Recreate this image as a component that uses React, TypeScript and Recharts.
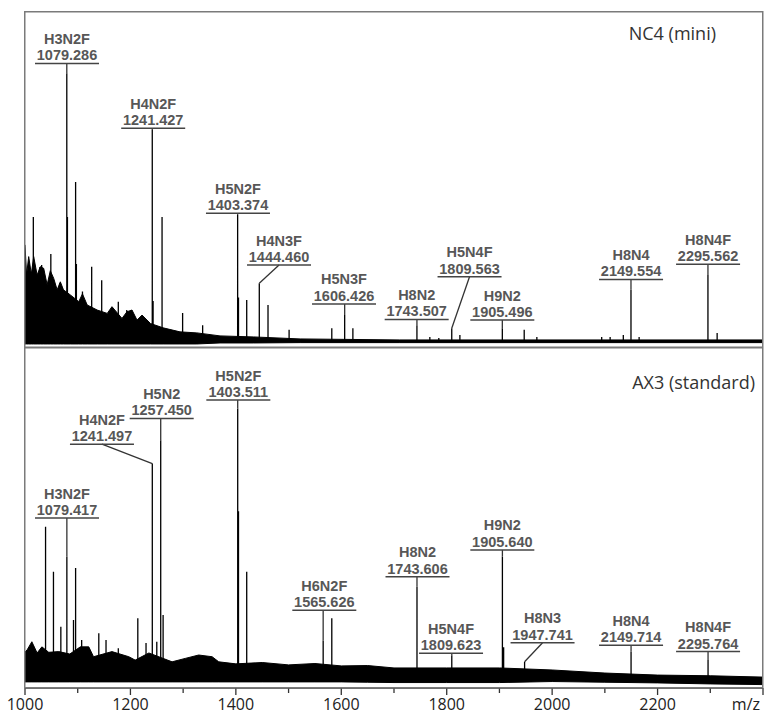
import { ComposedChart, Line, Area, Scatter, XAxis, YAxis, ReferenceLine } from "recharts";

// m/z axis
const mzDomain = [1000, 2400];
const mzTicks = [1000, 1100, 1200, 1300, 1400, 1500, 1600, 1700, 1800, 1900, 2000, 2100, 2200, 2300, 2400];

// NC4 (mini) — peaks as [m/z, relative intensity]
const ncPeaks = [
  [1079.286, 81.8], [1241.427, 64.9], [1403.374, 39.6], [1444.46, 19.3], [1606.426, 9.8],
  [1743.507, 6.8], [1809.563, 5.9], [1905.496, 5.9], [2149.554, 17.3], [2295.562, 21.7],
  [1015.8, 39], [1028, 24], [1031.6, 24.7], [1049, 28], [1066, 19.3], [1080.5, 39],
  [1096, 49.4], [1097.5, 25], [1109, 16.8], [1126.5, 24.2], [1145.5, 20.2], [1177, 13.8],
  [1193, 11.3], [1202, 11.3], [1221, 8.9], [1243, 14], [1260, 39], [1299, 10.4], [1337, 6.8],
  [1405, 15], [1420.6, 14.3], [1461, 12.8], [1501, 5.4], [1582, 5.9], [1622, 5.9],
  [1768, 3.3], [1785, 3.0], [1825, 3.9], [1947, 5.4], [1971, 3.3], [2094, 3.3], [2110, 3.3],
  [2135, 3.9], [2165, 3.3], [2313, 4.5],
];
// noise band [m/z, low, high]
const ncNoise = [
  [1000, 1.2, 30.7], [1003, 1.2, 21.7], [1007, 1.2, 27.2], [1012, 1.2, 22], [1016.5, 1.2, 27.2],
  [1023, 1.2, 21.7], [1029, 1.2, 24.2], [1035.5, 1.2, 23.7], [1042, 1.2, 18.8], [1048, 1.2, 23],
  [1054.5, 1.2, 20.7], [1061, 1.2, 17.3], [1067, 1.2, 19.7], [1073, 1.2, 17.3], [1086, 1.2, 15.8],
  [1102, 1.2, 13.8], [1109, 1.2, 16.1], [1118, 1.2, 12.8], [1137, 1.2, 11.3], [1156, 1.2, 10.3],
  [1165, 1.2, 12.3], [1184, 1.2, 8.8], [1193.5, 1.2, 10.8], [1203, 1.2, 11.3], [1212.5, 1.2, 8.3],
  [1222, 1.2, 9.8], [1238, 1.2, 7.3], [1262, 1.2, 6.0], [1294, 1.2, 4.8], [1326, 1.2, 4.5],
  [1370, 1.5, 3.6], [1433, 1.5, 3.3], [1522, 1.6, 2.7], [1711, 1.6, 2.4], [2400, 1.6, 2.4],
];
// labels: [name, mass, label m/z, label level, peak m/z, peak top]
const ncLabels = [
  ["H3N2F", "1079.286", 1079.7, 84.7, 1079.286, 81.8],
  ["H4N2F", "1241.427", 1243.2, 65.4, 1241.427, 64.9],
  ["H5N2F", "1403.374", 1404, 40.1, 1403.374, 39.6],
  ["H4N3F", "1444.460", 1481.9, 24.7, 1444.46, 19.3],
  ["H5N3F", "1606.426", 1605.2, 13.1, 1606.426, 9.8],
  ["H8N2", "1743.507", 1743, 8.5, 1743.507, 6.8],
  ["H5N4F", "1809.563", 1843.3, 21.2, 1809.563, 5.9],
  ["H9N2", "1905.496", 1905.5, 8.3, 1905.496, 5.9],
  ["H8N4", "2149.554", 2149.7, 20.4, 2149.554, 17.3],
  ["H8N4F", "2295.562", 2295.8, 24.9, 2295.562, 21.7],
];

// AX3 (standard)
const axPeaks = [
  [1079.417, 38.6], [1241.497, 66], [1257.45, 72.9], [1403.511, 82.2], [1565.626, 14],
  [1743.606, 29.8], [1809.623, 9.6], [1905.64, 38.6], [1947.741, 7.7], [2149.714, 10.7],
  [2295.764, 8.2],
  [1039, 47.4], [1054, 34.2], [1068, 18], [1092, 20], [1096, 35.3], [1107.5, 14.1],
  [1140, 16.1], [1153.7, 14.1], [1177, 11.7], [1214, 20.5], [1229.6, 13.2], [1250, 13.6],
  [1262, 21.5], [1319, 9.2], [1405, 52], [1420.6, 34.2], [1582, 20.5], [1908, 12],
];
const axNoise = [
  [1000, 1.8, 10.6], [1004, 1.8, 11.2], [1013, 1.8, 13.6], [1023, 1.8, 10.3], [1032, 1.8, 12.1],
  [1045, 1.8, 10.5], [1064, 1.8, 10.7], [1085, 1.8, 10.0], [1105, 1.8, 12.1], [1121, 1.8, 12.1],
  [1130, 1.8, 9.2], [1165, 1.8, 10.7], [1197, 1.8, 9.2], [1209, 1.8, 8.2], [1235, 1.8, 10.3],
  [1279, 1.8, 7.7], [1304, 1.8, 8.7], [1329.5, 1.8, 9.7], [1355, 1.8, 9.2], [1367.5, 1.8, 7.7],
  [1400, 1.8, 7.1], [1450, 1.8, 7.5], [1500, 1.8, 6.8], [1550, 1.8, 7.2], [1600, 1.8, 6.5],
  [1650, 1.7, 6.6], [1700, 1.6, 5.9], [1800, 1.6, 5.9], [1900, 1.6, 5.9], [2000, 1.9, 5.3],
  [2100, 1.7, 4.4], [2200, 1.5, 3.8], [2300, 1.2, 3.6], [2400, 1.0, 3.2],
];
const axLabels = [
  ["H3N2F", "1079.417", 1079.7, 50, 1079.417, 38.6],
  ["H4N2F", "1241.497", 1146, 71.7, 1241.497, 66],
  ["H5N2", "1257.450", 1259.3, 79.3, 1257.45, 72.9],
  ["H5N2F", "1403.511", 1404.7, 84.7, 1403.511, 82.2],
  ["H6N2F", "1565.626", 1567.8, 22.9, 1565.626, 14],
  ["H8N2", "1743.606", 1744.6, 32.7, 1743.606, 29.8],
  ["H5N4F", "1809.623", 1808.2, 10.2, 1809.623, 9.6],
  ["H9N2", "1905.640", 1905.5, 40.6, 1905.64, 38.6],
  ["H8N3", "1947.741", 1981.8, 13.3, 1947.741, 7.7],
  ["H8N4", "2149.714", 2149.7, 12.6, 2149.714, 10.7],
  ["H8N4F", "2295.764", 2295.8, 10.7, 2295.764, 8.2],
];

const FONT = "'Open Sans', 'DejaVu Sans', sans-serif";
const LABEL_FONT = "'Liberation Sans', Arial, sans-serif";

const toSticks = (peaks: number[][], base: number) => {
  const sorted = [...peaks].sort((a, b) => a[0] - b[0]);
  const out = [{ mz: mzDomain[0], v: base }];
  sorted.forEach(([m, h]) => {
    out.push({ mz: m, v: base }, { mz: m, v: h }, { mz: m, v: base });
  });
  out.push({ mz: mzDomain[1], v: base });
  return out;
};

const toBand = (noise: number[][]) => noise.map(([mz, lo, hi]) => ({ mz, band: [lo, hi] }));

const toLabels = (labels: any[]) =>
  labels.map(([name, mass, lx, ly]) => ({ mz: lx, v: ly, name, mass }));

const PeakLabel = (props: any) => {
  const { cx, cy, payload } = props;
  const textProps = {
    textAnchor: "middle" as const,
    fontSize: 14.5,
    fontWeight: 700,
    fill: "#575757",
    fontFamily: LABEL_FONT,
  };
  return (
    <g>
      <text x={cx} y={cy - 19.5} {...textProps}>{payload.name}</text>
      <text x={cx} y={cy - 3} {...textProps}>{payload.mass}</text>
      <line x1={cx - 32} x2={cx + 32} y1={cy} y2={cy} stroke="#444" strokeWidth={1.5} />
    </g>
  );
};

const MzTick = (props: any) => {
  const { x, y, payload } = props;
  const v = payload.value;
  const major = v % 200 === 0;
  const last = v === mzDomain[1];
  const label = last ? "m/z" : major ? String(v) : "";
  return (
    <g>
      <line x1={x} x2={x} y1={y} y2={y + (major ? 7 : 5)} stroke="#333" strokeWidth={1.3} />
      {label && (
        <text
          x={last ? x - 3 : x}
          y={y + 22}
          textAnchor={last ? "end" : "middle"}
          fontSize={16}
          fill="#222"
          fontFamily={FONT}
        >
          {label}
        </text>
      )}
    </g>
  );
};

const Panel = ({ peaks, noise, labels, base, height, showAxis }: any) => (
  <ComposedChart
    width={764}
    height={height}
    margin={{ top: showAxis ? 0 : 12, right: 1, bottom: 0, left: 25 }}
  >
    <XAxis
      type="number"
      dataKey="mz"
      domain={mzDomain}
      ticks={mzTicks}
      interval={0}
      allowDataOverflow
      hide={!showAxis}
      height={27}
      tickSize={0}
      tickMargin={0}
      tick={<MzTick />}
      axisLine={{ stroke: "#333", strokeWidth: 1.5 }}
    />
    <YAxis type="number" domain={[0, 100]} hide allowDataOverflow />
    <Area
      data={toBand(noise)}
      dataKey="band"
      type="linear"
      fill="#000"
      fillOpacity={1}
      stroke="#000"
      strokeWidth={1}
      isAnimationActive={false}
    />
    <Line
      data={toSticks(peaks, base)}
      dataKey="v"
      type="linear"
      stroke="#000"
      strokeWidth={1.3}
      dot={false}
      activeDot={false}
      isAnimationActive={false}
    />
    {labels.map((l: any[]) => (
      <ReferenceLine
        key={l[1]}
        segment={[
          { x: Math.abs(l[4] - l[2]) < 5 ? l[4] : l[2], y: l[3] },
          { x: l[4], y: l[5] },
        ]}
        stroke="#333"
        strokeWidth={1.3}
        ifOverflow="visible"
      />
    ))}
    <Scatter
      data={toLabels(labels)}
      dataKey="v"
      shape={<PeakLabel />}
      isAnimationActive={false}
    />
  </ComposedChart>
);

export default function App() {
  return (
    <div style={{ position: "absolute", left: 0, top: 0, width: 764, height: 715, background: "#fff" }}>
      <div style={{ position: "absolute", left: 0, top: 0 }}>
        <Panel peaks={ncPeaks} noise={ncNoise} labels={ncLabels} base={1.8} height={348} showAxis={false} />
      </div>
      <div style={{ position: "absolute", left: 0, top: 348 }}>
        <Panel peaks={axPeaks} noise={axNoise} labels={axLabels} base={2.5} height={367} showAxis />
      </div>
      <svg
        width={764}
        height={715}
        style={{ position: "absolute", left: 0, top: 0, pointerEvents: "none" }}
      >
        <rect x={24.75} y={11.75} width={738} height={676} fill="none" stroke="#7a7a7a" strokeWidth={1.5} />
        <line x1={25} x2={763} y1={347.5} y2={347.5} stroke="#7a7a7a" strokeWidth={2} />
        <text x={716} y={39.5} textAnchor="end" fontSize={18} fill="#333" fontFamily={FONT}>
          NC4 (mini)
        </text>
        <text x={755} y={389} textAnchor="end" fontSize={18} fill="#333" fontFamily={FONT}>
          AX3 (standard)
        </text>
      </svg>
    </div>
  );
}
